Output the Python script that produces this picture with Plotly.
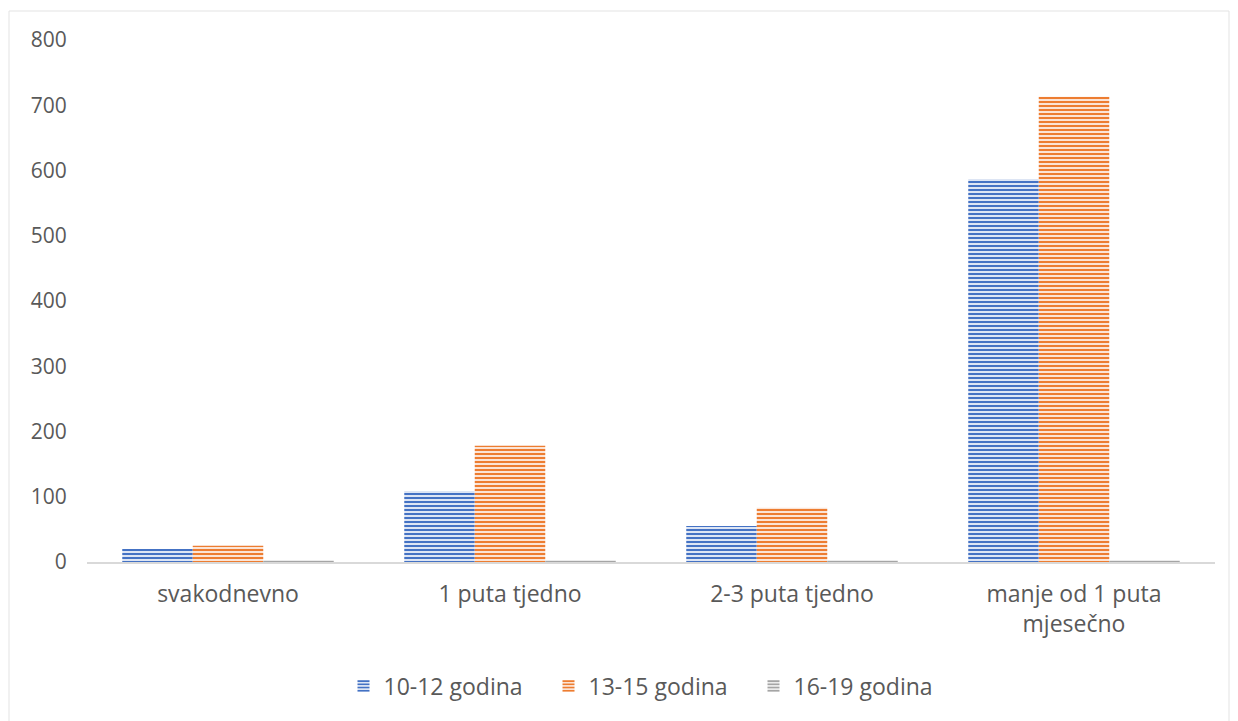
import plotly.graph_objects as go

categories = ["svakodnevno", "1 puta tjedno", "2-3 puta tjedno", "manje od 1 puta<br>mjesečno"]
series_names = ["10-12 godina", "13-15 godina", "16-19 godina"]
vals_10_12 = [20, 109, 55, 587]
vals_13_15 = [25, 178, 83, 713]
vals_16_19 = [2, 2, 2, 2]
colors = ["#4472C4", "#ED7D31", "#A5A5A5"]
bg_tints = ["#eef2fa", "#fdf0e8", "#f3f3f3"]
y_ticks = [0, 100, 200, 300, 400, 500, 600, 700, 800]

FONT = "Open Sans"
TXT = "#595959"

W, H = 1230, 713
L, T = 79, 32
PW = 1128
PH = 522

fig = go.Figure()
for name, vals, col, tint in zip(series_names, [vals_10_12, vals_13_15, vals_16_19], colors, bg_tints):
    fig.add_trace(go.Bar(
        x=categories, y=vals, name=name,
        marker=dict(
            color="#ffffff",
            line=dict(width=0),
            pattern=dict(shape="-", fgcolor=col, bgcolor=tint,
                         size=4, solidity=0.55, fillmode="replace"),
        ),
    ))

fig.update_layout(
    width=W, height=H,
    margin=dict(l=L, r=W - L - PW, t=T, b=H - T - PH),
    paper_bgcolor="white", plot_bgcolor="white",
    barmode="group", bargap=0.25, bargroupgap=0,
    font=dict(family=FONT, size=21, color=TXT),
    showlegend=True,
    legend=dict(orientation="h", x=0.5, xanchor="center", y=-0.2375, yanchor="middle",
                font=dict(family=FONT, size=23, color=TXT), itemwidth=30, traceorder="normal",
                entrywidth=160, entrywidthmode="pixels"),
    xaxis=dict(showgrid=False, showline=True, linecolor="#d9d9d9", linewidth=2,
               ticks="outside", ticklen=10, tickcolor="rgba(0,0,0,0)",
               tickfont=dict(family=FONT, size=23, color=TXT), zeroline=False),
    yaxis=dict(range=[0, 800], tickvals=y_ticks, showgrid=False, showline=False, zeroline=False,
               ticks="outside", ticklen=15, tickcolor="rgba(0,0,0,0)",
               tickfont=dict(family=FONT, size=21, color=TXT)),
    shapes=[dict(type="rect", xref="paper", yref="paper",
                 x0=(1 - L) / PW, x1=(1221 - L) / PW,
                 y0=-(H - T - PH + 10) / PH, y1=(PH + T - 3) / PH,
                 line=dict(color="#e3e3e3", width=1), fillcolor="rgba(0,0,0,0)", layer="below")],
)

fig.write_html("out.html")
